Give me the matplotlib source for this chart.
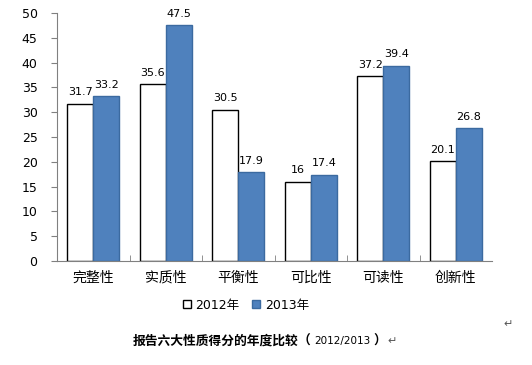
import numpy as np
import matplotlib.pyplot as plt

plt.rcParams['font.family'] = ['DejaVu Sans', 'Noto Sans CJK SC']

categories = ['完整性', '实质性', '平衡性', '可比性', '可读性', '创新性']
scores_2012 = [31.7, 35.6, 30.5, 16, 37.2, 20.1]
scores_2013 = [33.2, 47.5, 17.9, 17.4, 39.4, 26.8]
labels_2012 = ['31.7', '35.6', '30.5', '16', '37.2', '20.1']
labels_2013 = ['33.2', '47.5', '17.9', '17.4', '39.4', '26.8']

fig = plt.figure(figsize=(5.32, 3.65), dpi=100)
ax = fig.add_axes([57 / 532, 1 - 261 / 365, 435 / 532, 248 / 365])

x = np.arange(len(categories))
w = 0.36
b1 = ax.bar(x - w / 2, scores_2012, w, color='white', edgecolor='black', linewidth=1, label='2012年')
b2 = ax.bar(x + w / 2, scores_2013, w, color='#4F81BD', edgecolor='#3B6AA0', linewidth=1, label='2013年')

# value labels above bars
for xi, v, t in zip(x - w / 2, scores_2012, labels_2012):
    ax.text(xi, v + 1.3, t, ha='center', va='bottom', fontsize=8)
for xi, v, t in zip(x + w / 2, scores_2013, labels_2013):
    ax.text(xi, v + 1.3, t, ha='center', va='bottom', fontsize=8)

ax.set_xlim(-0.5, len(categories) - 0.5)
ax.set_ylim(0, 50)
ax.set_yticks(range(0, 51, 5))
ax.set_xticks(x)
ax.set_xticklabels(categories, fontsize=10, family=['Noto Sans CJK SC'])
ax.set_xticks(np.arange(0.5, len(categories) - 1, 1), minor=True)
ax.tick_params(axis='x', which='major', length=0, pad=7)
ax.tick_params(axis='x', which='minor', length=4, direction='in', color='#808080')
ax.tick_params(axis='y', labelsize=9, length=4, color='#808080', pad=10)
for s in ['top', 'right']:
    ax.spines[s].set_visible(False)
for s in ['left', 'bottom']:
    ax.spines[s].set_color('#808080')

fig.legend(handles=[b1, b2], loc='center', bbox_to_anchor=(246 / 532, 1 - 305 / 365),
           ncol=2, frameon=False, handlelength=0.6, handleheight=0.6,
           handletextpad=0.4, columnspacing=1.0,
           prop={'family': ['DejaVu Sans', 'Noto Sans CJK SC'], 'size': 9})

# caption below the chart
cy = 1 - 341 / 365
fig.text(133 / 532, cy, '报告六大性质得分的年度比较', ha='left', va='center',
         fontsize=9.2, fontweight='bold', family=['Noto Sans CJK SC'])
fig.text(304 / 532, cy, '（', ha='center', va='center', fontsize=9.2,
         fontweight='bold', family=['Noto Sans CJK SC'])
fig.text(314 / 532, cy, '2012/2013', ha='left', va='center', fontsize=7.5)
fig.text(380 / 532, cy, '）', ha='center', va='center', fontsize=9.2,
         fontweight='bold', family=['Noto Sans CJK SC'])
fig.text(392 / 532, cy, '↵', ha='center', va='center', fontsize=8, color='#555555')
fig.text(508 / 532, 1 - 324 / 365, '↵', ha='center', va='center', fontsize=8, color='#555555')

fig.savefig('out.png', dpi=100)
